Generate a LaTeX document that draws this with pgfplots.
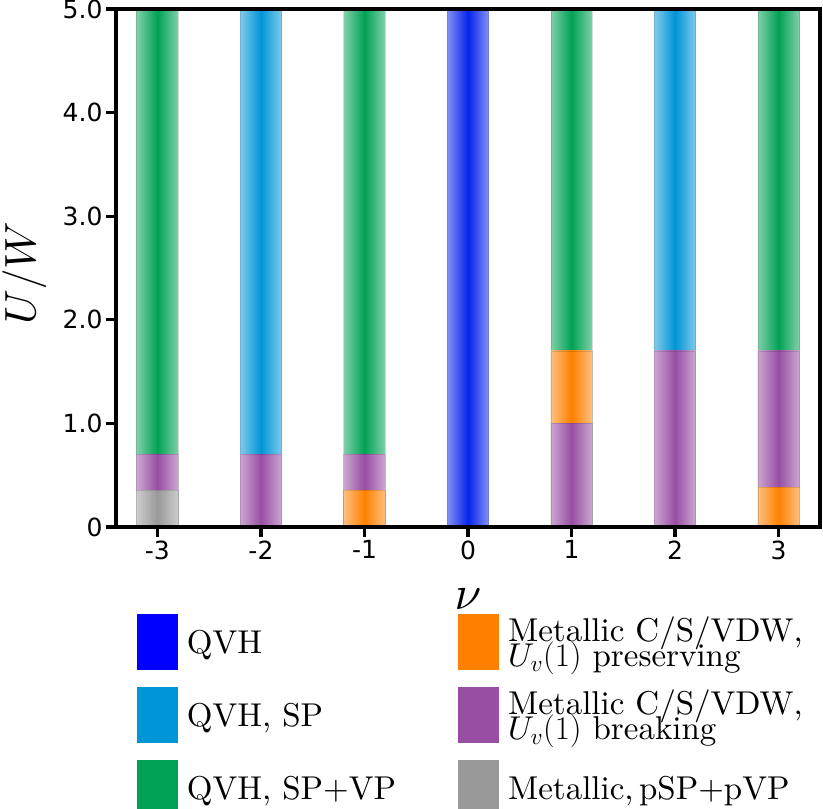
\RequirePackage{fix-cm}
\documentclass[border=0pt]{standalone}
\usepackage{pgfplots}
\pgfplotsset{compat=1.18}
\usepackage{fontspec}
\setmainfont{lmroman10-regular.otf}[ItalicFont=lmroman10-italic.otf, BoldFont=lmroman10-bold.otf]
\newfontfamily\tickfont{DejaVu Sans}
\DeclareFontShape{OML}{cmm}{m}{it}{<->cmmi10}{}

\definecolor{cQVH}{RGB}{0,0,255}
\definecolor{cQVHbar}{RGB}{5,35,235}
\definecolor{cSP}{RGB}{0,149,214}
\definecolor{cSPVP}{RGB}{0,161,84}
\definecolor{cPres}{RGB}{255,128,0}
\definecolor{cBreak}{RGB}{152,78,163}
\definecolor{cGray}{RGB}{153,153,153}

% one bar segment, shaded light-dark-light across
\pgfplotsset{
  seg/.style={ybar, bar width=0.4, bar shift=0pt, draw=black, draw opacity=0.12,
    line width=0.6pt, left color=#1!50!white, right color=#1!50!white,
    middle color=#1, forget plot},
}
\newcommand{\two}[2]{\vbox{\lineskiplimit=-\maxdimen\hbox{#1}\hbox{#2}}}

\begin{document}
\begin{tikzpicture}
\useasboundingbox (0,0) rectangle (823pt,809pt);
\begin{axis}[
  at={(116pt,282pt)}, anchor=south west,
  scale only axis, width=704pt, height=518pt,
  xmin=-3.4, xmax=3.4, ymin=0, ymax=5,
  axis on top,
  axis line style={line width=3.2pt},
  tick style={line width=3.2pt, black},
  major tick length=10pt,
  tick align=outside, tick pos=left,
  xtick={-3,-2,-1,0,1,2,3},
  xticklabels={-3,-2,-1,0,1,2,3},
  ytick={0,1,2,3,4,5},
  yticklabels={0,1.0,2.0,3.0,4.0,5.0},
  ticklabel style={font=\tickfont\fontsize{25}{25}\selectfont},
  xlabel={$\nu$}, ylabel={$U/W$},
  xlabel style={font=\fontsize{48}{48}\selectfont,
    at={(axis description cs:0.5,-0.14)}, anchor=center},
  ylabel style={font=\fontsize{44}{44}\selectfont, inner sep=0pt,
    at={(axis description cs:-0.13,0.49)}, anchor=center},
  legend columns=2,
  legend cell align=left,
  legend image code/.code={\path (0pt,-28pt) rectangle (41pt,28pt);
    \fill[#1] (0pt,-20.5pt) rectangle (41pt,20.5pt);},
  legend style={at={(rel axis cs:0.0298,-0.1689)}, anchor=north west,
    draw=none, fill=none, inner sep=0pt, outer sep=0pt,
    row sep=17pt, column sep=9pt,
    font=\fontsize{33}{25}\selectfont, nodes={inner sep=0pt},
    /tikz/every even column/.append style={column sep=62pt}},
]
% one plot per segment so that each is shaded on its own;
% at each nu the taller segments go first, shorter ones over them
\addplot[seg=cSPVP]   coordinates {(-3,5)};
\addplot[seg=cBreak]  coordinates {(-3,0.7)};
\addplot[seg=cGray]   coordinates {(-3,0.35)};

\addplot[seg=cSP]     coordinates {(-2,5)};
\addplot[seg=cBreak]  coordinates {(-2,0.7)};

\addplot[seg=cSPVP]   coordinates {(-1,5)};
\addplot[seg=cBreak]  coordinates {(-1,0.7)};
\addplot[seg=cPres]   coordinates {(-1,0.35)};

\addplot[seg=cQVHbar] coordinates {(0,5)};

\addplot[seg=cSPVP]   coordinates {(1,5)};
\addplot[seg=cPres]   coordinates {(1,1.7)};
\addplot[seg=cBreak]  coordinates {(1,1.0)};

\addplot[seg=cSP]     coordinates {(2,5)};
\addplot[seg=cBreak]  coordinates {(2,1.7)};

\addplot[seg=cSPVP]   coordinates {(3,5)};
\addplot[seg=cBreak]  coordinates {(3,1.7)};
\addplot[seg=cPres]   coordinates {(3,0.38)};

\addlegendimage{fill=cQVH, draw=none}
\addlegendentry{QVH}
\addlegendimage{fill=cPres, draw=none}
\addlegendentry{\two{Metallic C/S/VDW,}{$U_v(1)$ preserving}}
\addlegendimage{fill=cSP, draw=none}
\addlegendentry{QVH, SP}
\addlegendimage{fill=cBreak, draw=none}
\addlegendentry{\two{Metallic C/S/VDW,}{$U_v(1)$ breaking}}
\addlegendimage{fill=cSPVP, draw=none}
\addlegendentry{QVH, SP+VP}
\addlegendimage{fill=cGray, draw=none}
\addlegendentry{Metallic,$\,$pSP+pVP}
\end{axis}
\end{tikzpicture}
\end{document}
